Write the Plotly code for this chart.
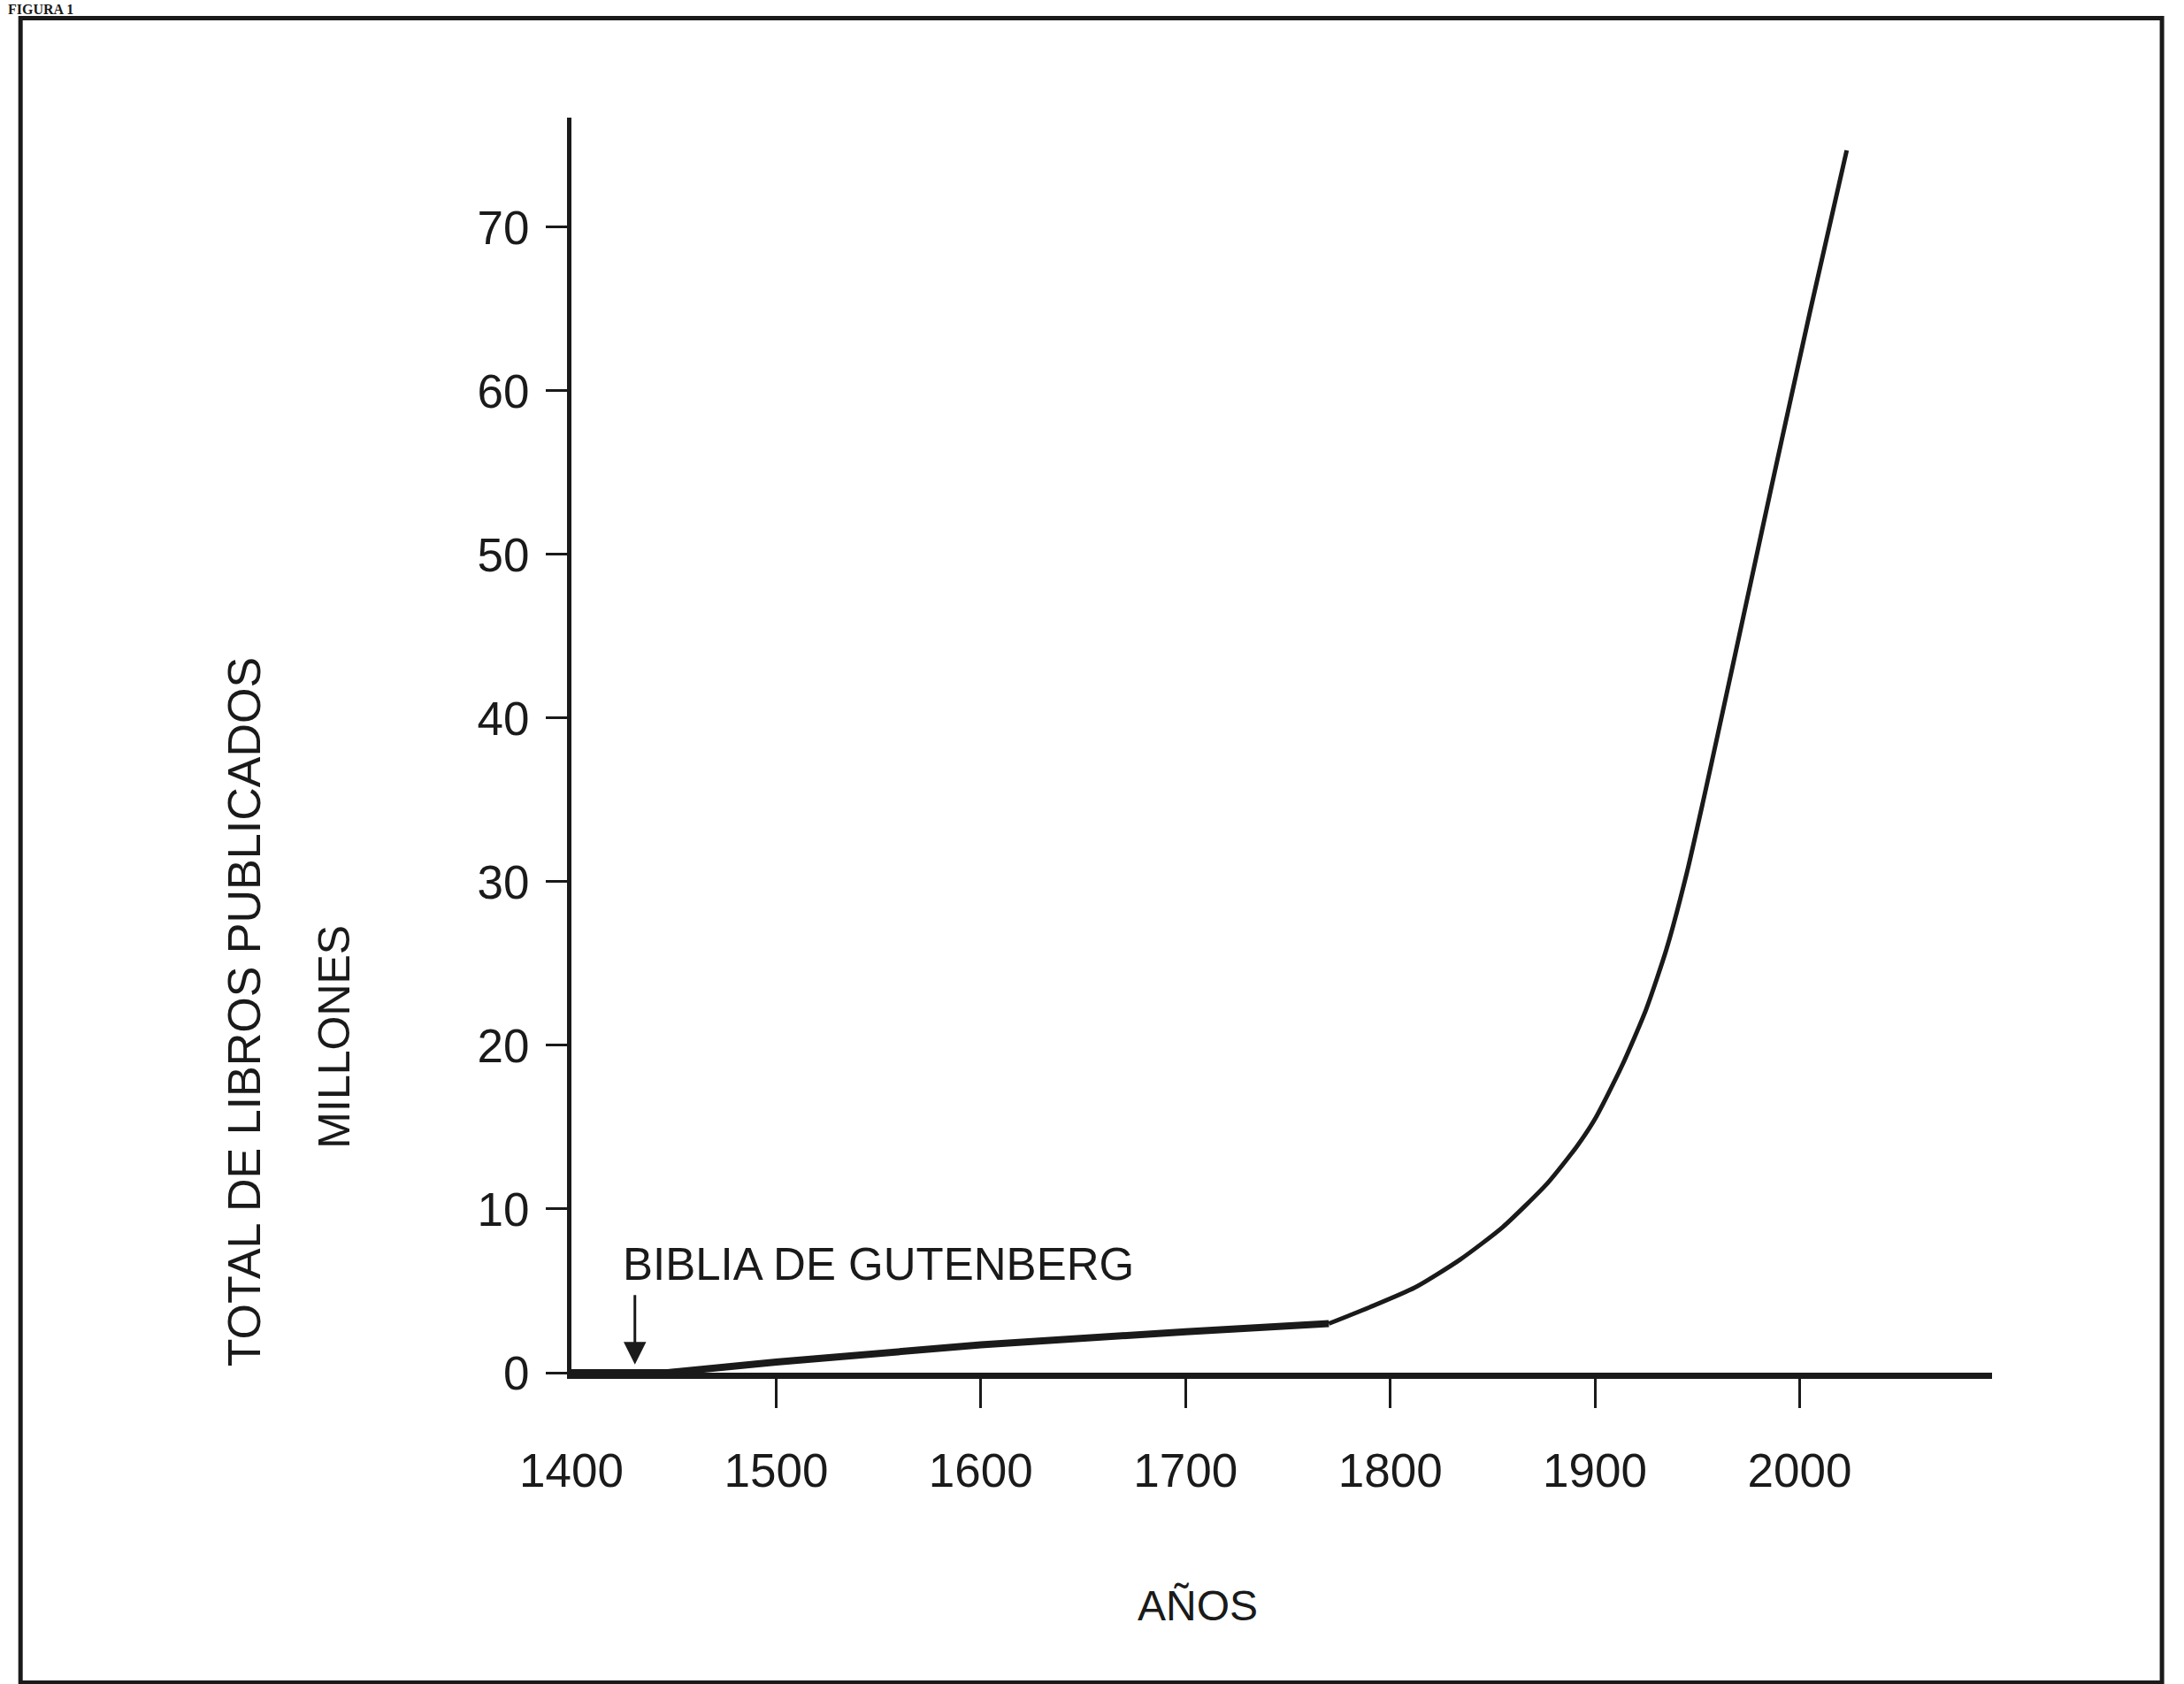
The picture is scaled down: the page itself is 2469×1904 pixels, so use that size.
import plotly.graph_objects as go

# Data (years, total books published in millions)
years = [1400, 1447, 1500, 1600, 1700, 1770, 1790, 1812, 1834, 1855, 1877, 1891,
         1900, 1913, 1925, 1935, 1945, 1953, 1960, 1968, 1977, 1986, 1996, 2005, 2023]
books = [0, 0, 0.65, 1.7, 2.5, 3.0, 4.0, 5.2, 6.9, 8.9, 11.6, 13.8,
         15.5, 18.7, 22.2, 25.9, 30.6, 35.0, 39.0, 43.6, 48.8, 54.0, 59.7, 64.8, 74.7]

y_tick_vals = [0, 10, 20, 30, 40, 50, 60, 70]
x_tick_vals = [1400, 1500, 1600, 1700, 1800, 1900, 2000]
x_tick_text = ["1400", "1500", "1600", "1700", "1800", "1900", "2000"]
x_tick_marks = [1500, 1600, 1700, 1800, 1900, 2000]

gutenberg_year = 1431
gutenberg_label = "BIBLIA DE GUTENBERG"

FONT = "Liberation Sans, Arial, Helvetica, sans-serif"
INK = "#1a1a1a"

KINK = 5  # index of the 1770 break in slope

fig = go.Figure()
# early, nearly flat segment (thicker, straight)
fig.add_trace(go.Scatter(x=years[:KINK + 1], y=books[:KINK + 1], mode="lines",
                         line=dict(color=INK, width=8), showlegend=False,
                         hoverinfo="skip"))
# rapid growth after 1770 (smooth)
fig.add_trace(go.Scatter(x=years[KINK:], y=books[KINK:], mode="lines",
                         line=dict(color=INK, width=5, shape="spline",
                                   smoothing=0.6),
                         showlegend=False, hoverinfo="skip"))

fig.update_layout(
    width=2469, height=1904,
    margin=dict(l=646, r=217, t=133, b=352),
    paper_bgcolor="white", plot_bgcolor="white",
    font=dict(family=FONT, size=48, color=INK),
    showlegend=False,
)

fig.update_xaxes(
    range=[1400, 2094], showgrid=False, zeroline=False,
    showline=True, linecolor=INK, linewidth=7,
    tickvals=x_tick_vals, ticktext=x_tick_text, ticks="",
    ticklabelstandoff=58,
    tickfont=dict(family=FONT, size=53, color=INK),
    minor=dict(tickvals=x_tick_marks, ticks="outside", ticklen=33,
               tickwidth=3, tickcolor=INK, showgrid=False),
)
fig.update_yaxes(
    range=[0, 76.7], showgrid=False, zeroline=False,
    showline=True, linecolor=INK, linewidth=5,
    tickvals=y_tick_vals, ticks="outside", ticklen=24, tickwidth=3,
    tickcolor=INK, ticklabelstandoff=8,
    tickfont=dict(family=FONT, size=53, color=INK),
)

# Gutenberg arrow and label
fig.add_annotation(x=gutenberg_year, y=0.5, xref="x", yref="y", text="",
                   showarrow=True, arrowhead=2, arrowsize=1.7, arrowwidth=3,
                   arrowcolor=INK, ax=0, ay=-80, standoff=0)
fig.add_annotation(x=1424.4, y=6.6, xref="x", yref="y", text=gutenberg_label,
                   showarrow=False, xanchor="left", yanchor="middle",
                   font=dict(family=FONT, size=51, color=INK))

# Axis titles (as placed in the original figure)
fig.add_annotation(x=-0.2304, y=0.2873, xref="paper", yref="paper",
                   text="TOTAL DE LIBROS PUBLICADOS", textangle=-90,
                   showarrow=False, xanchor="center", yanchor="middle",
                   font=dict(family=FONT, size=52, color=INK))
fig.add_annotation(x=-0.1669, y=0.268, xref="paper", yref="paper",
                   text="MILLONES", textangle=-90,
                   showarrow=False, xanchor="center", yanchor="middle",
                   font=dict(family=FONT, size=50, color=INK))
fig.add_annotation(x=1705.8, y=-0.186, xref="x", yref="paper",
                   text="AÑOS", showarrow=False,
                   xanchor="center", yanchor="middle",
                   font=dict(family=FONT, size=48, color=INK))

# Figure heading (cut at the top edge in the scanned original; kept visible here)
fig.add_annotation(x=-0.398, y=1.0935, xref="paper", yref="paper",
                   text="<b>FIGURA 1</b>", showarrow=False,
                   xanchor="left", yanchor="top",
                   font=dict(family="Liberation Serif, Times New Roman, serif",
                             size=16, color=INK))

# Page frame around the figure
fig.add_shape(type="rect", xref="paper", yref="paper",
              x0=-0.3878, x1=1.1196, y0=-0.2470, y1=1.0793,
              line=dict(color=INK, width=5), fillcolor="rgba(0,0,0,0)",
              layer="below")

fig.write_html("out.html",
               config={"displayModeBar": False},
               post_script="document.body.style.margin='0';"
                           "document.body.style.overflow='hidden';")
